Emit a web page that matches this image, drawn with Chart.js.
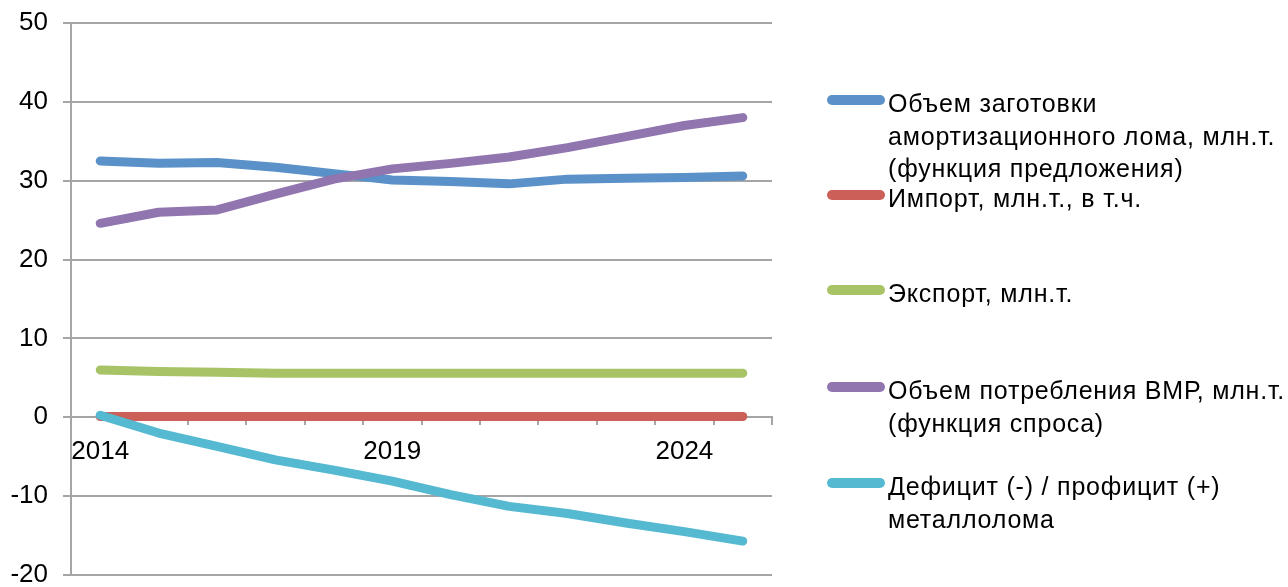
<!DOCTYPE html>
<html>
<head>
<meta charset="utf-8">
<script src="https://cdn.jsdelivr.net/npm/chart.js@4/dist/chart.umd.min.js"></script>
<style>
  body { margin: 0; background: #fff; }
  #wrap { position: relative; width: 1288px; height: 587px; }
  #legend { position: absolute; left: 0; top: 0; font-family: "Liberation Sans", Arial, sans-serif; font-size: 25px; letter-spacing: 0.8px; color: #000; }
  .item { position: absolute; left: 888px; line-height: 32.5px; white-space: nowrap; }
  .swatch { position: absolute; left: 827px; width: 58px; height: 10px; border-radius: 5px; }
</style>
</head>
<body>
<div id="wrap">
  <canvas id="chart" width="1288" height="587"></canvas>
  <div id="legend"></div>
</div>
<script>
var years = ['2014', '2015', '2016', '2017', '2018', '2019', '2020', '2021', '2022', '2023', '2024', '2025'];
var shownYears = ['2014', '2019', '2024'];

var supply = [32.5, 32.2, 32.3, 31.7, 30.9, 30.1, 29.9, 29.6, 30.2, 30.3, 30.4, 30.6];
var imports = [0.1, 0.1, 0.1, 0.1, 0.1, 0.1, 0.1, 0.1, 0.1, 0.1, 0.1, 0.1];
var exports = [6.0, 5.8, 5.7, 5.6, 5.6, 5.6, 5.6, 5.6, 5.6, 5.6, 5.6, 5.6];
var demand = [24.6, 26.0, 26.3, 28.3, 30.2, 31.5, 32.2, 33.0, 34.2, 35.6, 37.0, 38.0];
var balance = [0.25, -2.0, -3.7, -5.4, -6.7, -8.1, -9.8, -11.3, -12.2, -13.4, -14.5, -15.7];

var seriesNames = [
  ['Объем заготовки', 'амортизационного лома, млн.т.', '(функция предложения)'],
  ['Импорт, млн.т., в т.ч.'],
  ['Экспорт, млн.т.'],
  ['Объем потребления ВМР, млн.т.', '(функция спроса)'],
  ['Дефицит (-) / профицит (+)', 'металлолома']
];
var colors = ['#5a91c8', '#cc5f58', '#a7c366', '#9175af', '#55b9d1'];
var legendRows = [103, 198, 293, 390, 486];

var seriesData = [supply, imports, exports, demand, balance];
var datasets = seriesData.map(function (d, i) {
  return {
    label: seriesNames[i].join(' '),
    data: d,
    borderColor: colors[i],
    backgroundColor: colors[i],
    borderWidth: 9,
    borderCapStyle: 'round',
    borderJoinStyle: 'round',
    pointRadius: 0,
    tension: 0,
    order: seriesData.length - i
  };
});

var font = { family: '"Liberation Sans", Arial, sans-serif', size: 26, lineHeight: 1 };
var gridColor = '#a5a5a5';

var chart = new Chart(document.getElementById('chart'), {
  type: 'line',
  data: { labels: years, datasets: datasets },
  options: {
    responsive: false,
    animation: false,
    layout: { padding: { top: 23, right: 516, bottom: 12, left: 0 } },
    plugins: { legend: { display: false }, tooltip: { enabled: false } },
    scales: {
      x: {
        position: { y: 0 },
        offset: true,
        grid: { offset: true, drawOnChartArea: false, drawTicks: true, tickLength: 7, color: gridColor, lineWidth: 2 },
        border: { display: true, color: gridColor, width: 2 },
        ticks: {
          autoSkip: false,
          maxRotation: 0,
          padding: 15,
          color: '#000',
          font: font,
          callback: function (v) {
            var lab = this.getLabelForValue(v);
            return shownYears.indexOf(lab) >= 0 ? lab : '';
          }
        }
      },
      y: {
        min: -20,
        max: 50,
        afterFit: function (scale) {
          scale.width = 71;
          scale.paddingTop = 0;
          scale.paddingBottom = 0;
        },
        grid: { color: gridColor, lineWidth: 2, tickLength: 8 },
        border: { display: true, color: gridColor, width: 2 },
        ticks: { stepSize: 10, padding: 15, color: '#000', font: font }
      }
    }
  }
});

var legend = document.getElementById('legend');
chart.data.datasets.forEach(function (ds, i) {
  var sw = document.createElement('div');
  sw.className = 'swatch';
  sw.style.background = ds.borderColor;
  sw.style.top = (legendRows[i] - 3 - 5) + 'px';
  legend.appendChild(sw);
  var it = document.createElement('div');
  it.className = 'item';
  it.style.top = (legendRows[i] - 16) + 'px';
  it.innerHTML = seriesNames[i].join('<br>');
  legend.appendChild(it);
});
</script>
</body>
</html>
